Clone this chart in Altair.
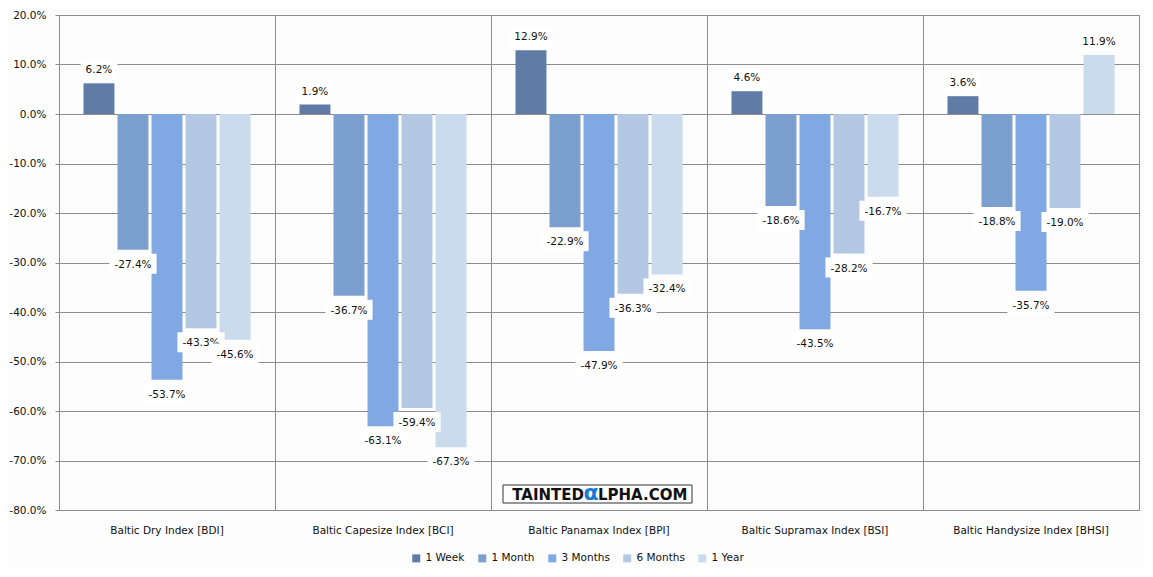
import altair as alt
import pandas as pd

indices = ["Baltic Dry Index [BDI]", "Baltic Capesize Index [BCI]", "Baltic Panamax Index [BPI]",
           "Baltic Supramax Index [BSI]", "Baltic Handysize Index [BHSI]"]
series = ["1 Week", "1 Month", "3 Months", "6 Months", "1 Year"]
colors = ["#607ba6", "#7b9fcf", "#80a8e2", "#b4c8e4", "#cadbee"]

week = [6.2, 1.9, 12.9, 4.6, 3.6]
month = [-27.4, -36.7, -22.9, -18.6, -18.8]
three_months = [-53.7, -63.1, -47.9, -43.5, -35.7]
six_months = [-43.3, -59.4, -36.3, -28.2, -19.0]
year = [-45.6, -67.3, -32.4, -16.7, 11.9]

y_ticks = [20, 10, 0, -10, -20, -30, -40, -50, -60, -70, -80]

FONT = "DejaVu Sans"
FS = 10.5
CW = {"-": 3.8, ".": 3.3, "%": 10.0}


def text_width(s):
    return sum(CW.get(c, 6.7) for c in s)


rows = []
for si, (s, vals) in enumerate(zip(series, [week, month, three_months, six_months, year])):
    for ci, v in enumerate(vals):
        lab = ("-" if v < 0 else "") + f"{abs(v):.1f}%"
        w = text_width(lab) / 2 + 5
        cy = -13 if v >= 0 else 14
        path = f"M{-w:.1f},{cy-10}H{w:.1f}V{cy+10}H{-w:.1f}Z"
        rows.append({"index": indices[ci], "series": s, "value": v, "label": lab,
                     "box": path, "sign": "pos" if v >= 0 else "neg"})
df = pd.DataFrame(rows)

x_enc = alt.X("index:N", sort=indices, title=None,
              scale=alt.Scale(paddingInner=0, paddingOuter=0),
              axis=alt.Axis(bandPosition=0, grid=True, gridColor="#8c8c8c", ticks=False,
                            domain=False, labelAngle=0, labelFont=FONT, labelFontSize=FS,
                            labelColor="#111", labelPadding=15))
xo_enc = alt.XOffset("series:N", sort=series,
                     scale=alt.Scale(domain=series, paddingInner=0.09, paddingOuter=0.72))
y_enc = alt.Y("value:Q", title=None,
              scale=alt.Scale(domain=[-80, 20], nice=False, zero=False),
              axis=alt.Axis(values=y_ticks, gridColor="#8c8c8c", tickColor="#8c8c8c",
                            tickSize=4, domain=False, labelPadding=9,
                            labelFont=FONT, labelFontSize=FS, labelColor="#111",
                            labelExpr="(datum.value < 0 ? '-' : '') + format(abs(datum.value), '.1f') + '%'"))

base = alt.Chart(df)

bars = base.mark_bar().encode(
    x=x_enc, xOffset=xo_enc, y=y_enc,
    color=alt.Color("series:N", sort=series,
                    scale=alt.Scale(domain=series, range=colors),
                    legend=alt.Legend(title=None, orient="none", direction="horizontal",
                                      legendX=352, legendY=538,
                                      symbolType="square", symbolSize=64, symbolStrokeWidth=0,
                                      labelFont=FONT, labelFontSize=FS, labelColor="#111",
                                      columnPadding=12, labelOffset=4)),
)

layers = [bars]
for s in series:
    sub = base.transform_filter(alt.datum.series == s)
    boxes = sub.mark_point(filled=True, opacity=1, color="white", strokeWidth=0, size=4).encode(
        x=x_enc, xOffset=xo_enc, y=y_enc,
        shape=alt.Shape("box:N", scale=None),
    )
    tpos = sub.transform_filter(alt.datum.sign == "pos").mark_text(
        dy=-13, font=FONT, fontSize=FS, color="#111").encode(
        x=x_enc, xOffset=xo_enc, y=y_enc, text="label:N")
    tneg = sub.transform_filter(alt.datum.sign == "neg").mark_text(
        dy=15, font=FONT, fontSize=FS, color="#111").encode(
        x=x_enc, xOffset=xo_enc, y=y_enc, text="label:N")
    layers += [boxes, tpos, tneg]

wm_data = pd.DataFrame({"a": [0]})
wm_box = alt.Chart(wm_data).mark_rect(fill="#fdfdfd", stroke="#333", strokeWidth=1).encode(
    x=alt.value(444), x2=alt.value(633), y=alt.value(470), y2=alt.value(488))
wm_t1 = alt.Chart(wm_data).mark_text(text="TAINTED", font=FONT, fontSize=15, fontWeight="bold",
                                     align="right", color="#111").encode(
    x=alt.value(525), y=alt.value(480))
wm_a = alt.Chart(wm_data).mark_text(text="α", font=FONT, fontSize=22, fontWeight="bold",
                                    align="center", color="#1b7bd4").encode(
    x=alt.value(532), y=alt.value(478))
wm_t2 = alt.Chart(wm_data).mark_text(text="LPHA.COM", font=FONT, fontSize=15, fontWeight="bold",
                                     align="left", color="#111").encode(
    x=alt.value(539), y=alt.value(480))

chart = alt.layer(*layers, wm_box, wm_t1, wm_a, wm_t2).properties(
    width=1080, height=495, background="#fdfdfd",
    padding={"left": 0, "top": 2, "right": 5, "bottom": 5},
).configure_view(stroke="#8c8c8c", strokeWidth=1)

chart.save("out.html", embed_options={"renderer": "svg", "actions": False})
